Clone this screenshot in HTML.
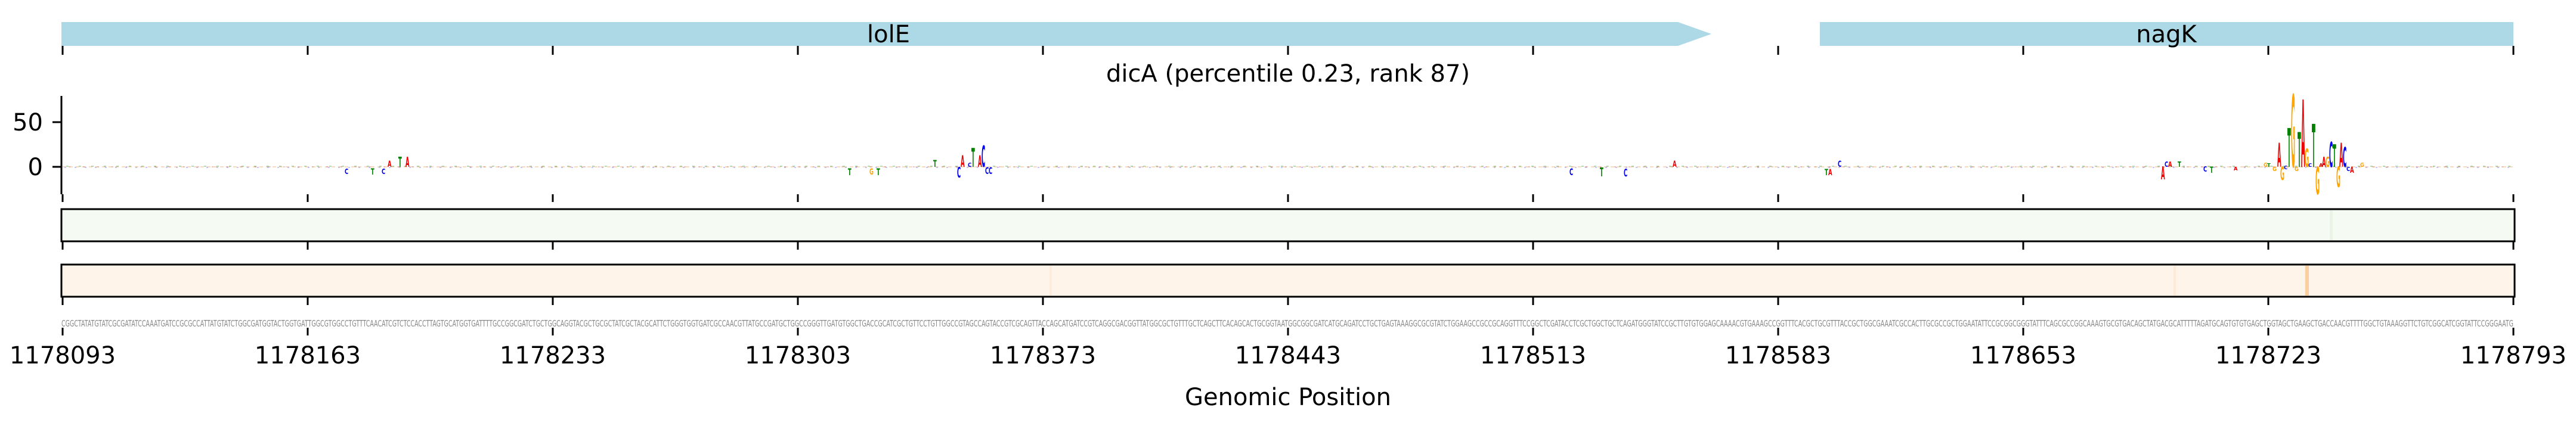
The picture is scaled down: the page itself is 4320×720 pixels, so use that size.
<!DOCTYPE html>
<html><head><meta charset="utf-8"><style>
html,body{margin:0;padding:0;background:#fff;}
svg{display:block;}
text{font-family:"DejaVu Sans","Liberation Sans",sans-serif;}
.l{font-family:"DejaVu Sans","Liberation Sans",sans-serif;font-weight:bold;font-size:100px;}
.A{fill:#ee0000}.C{fill:#0000ee}.G{fill:#ffa500}.T{fill:#008000}
</style></head><body>
<svg width="4320" height="720" viewBox="0 0 4320 720" xmlns="http://www.w3.org/2000/svg">
<!-- gene track -->
<polygon points="103,37 2814,37 2870,57 2814,77 103,77" fill="#add8e6"/>
<rect x="3052" y="37" width="1163" height="40" fill="#add8e6"/>
<text x="1490" y="71" font-size="40" text-anchor="middle">lolE</text>
<text x="3633" y="71" font-size="40" text-anchor="middle">nagK</text>
<g stroke="#000" stroke-width="3">
<path d="M105,77V92M516,77V92M927,77V92M1338,77V92M1749,77V92M2160,77V92M2571,77V92M2982,77V92M3393,77V92M3804,77V92M4215,77V92"/>
<path d="M105,326V339M516,326V339M927,326V339M1338,326V339M1749,326V339M2160,326V339M2571,326V339M2982,326V339M3393,326V339M3804,326V339M4215,326V339"/>
<path d="M105,405V419M516,405V419M927,405V419M1338,405V419M1749,405V419M2160,405V419M2571,405V419M2982,405V419M3393,405V419M3804,405V419M4215,405V419"/>
<path d="M105,498V512M516,498V512M927,498V512M1338,498V512M1749,498V512M2160,498V512M2571,498V512M2982,498V512M3393,498V512M3804,498V512M4215,498V512"/>
<path d="M105,550V563M516,550V563M927,550V563M1338,550V563M1749,550V563M2160,550V563M2571,550V563M2982,550V563M3393,550V563M3804,550V563M4215,550V563"/>
</g>
<!-- title -->
<text x="2160" y="137" font-size="40" text-anchor="middle">dicA (percentile 0.23, rank 87)</text>
<!-- logo axis -->
<path d="M103,161V326M88,205H103M88,280H103" stroke="#000" stroke-width="3" fill="none"/>
<text x="72" y="219" font-size="40" text-anchor="end">50</text>
<text x="72" y="294" font-size="40" text-anchor="end">0</text>
<!-- baseline noise -->
<path d="M105,280H4215" stroke="#f0b070" stroke-width="1.5" stroke-dasharray="6,5" opacity="0.6"/>
<path d="M108,281H4215" stroke="#7070ee" stroke-width="1.5" stroke-dasharray="3,14" opacity="0.5"/>
<path d="M111,279H4215" stroke="#40a040" stroke-width="1.5" stroke-dasharray="4,17" opacity="0.5"/>
<path d="M115,280H4215" stroke="#ee6060" stroke-width="1.5" stroke-dasharray="3,21" opacity="0.5"/>
<!-- small letters scattered -->
<g class="l">
<text class="A" transform="translate(650,280) scale(0.085,0.14)">A</text>
<text class="T" transform="translate(668,280) scale(0.085,0.23)">T</text>
<text class="A" transform="translate(680,280) scale(0.085,0.23)">A</text>
<text class="C" transform="translate(578,292) scale(0.085,0.12)">C</text>
<text class="T" transform="translate(622,293) scale(0.085,0.14)">T</text>
<text class="C" transform="translate(640,292) scale(0.085,0.12)">C</text>
<text class="T" transform="translate(1422,294) scale(0.085,0.16)">T</text>
<text class="G" transform="translate(1458,293) scale(0.085,0.14)">G</text>
<text class="T" transform="translate(1470,294) scale(0.085,0.16)">T</text>
<text class="T" transform="translate(1565,280) scale(0.085,0.16)">T</text>
<text class="C" transform="translate(1605,298) scale(0.085,0.25)">C</text>
<text class="A" transform="translate(1611,280) scale(0.085,0.27)">A</text>
<text class="C" transform="translate(1623,280) scale(0.085,0.1)">C</text>
<text class="T" transform="translate(1629,280) scale(0.085,0.44)">T</text>
<text class="A" transform="translate(1640,280) scale(0.085,0.27)">A</text>
<text class="C" transform="translate(1646,280) scale(0.085,0.49)">C</text>
<text class="C" transform="translate(1652,292) scale(0.085,0.16)">C</text>
<text class="C" transform="translate(1658,292) scale(0.085,0.16)">C</text>
<text class="T" transform="translate(2683,296) scale(0.085,0.2)">T</text>
<text class="C" transform="translate(2723,296) scale(0.085,0.18)">C</text>
<text class="C" transform="translate(2632,294) scale(0.085,0.16)">C</text>
<text class="A" transform="translate(2805,280) scale(0.085,0.14)">A</text>
<text class="T" transform="translate(3060,294) scale(0.085,0.14)">T</text>
<text class="A" transform="translate(3066,294) scale(0.085,0.14)">A</text>
<text class="C" transform="translate(3082,280) scale(0.085,0.14)">C</text>
<text class="A" transform="translate(3624,301) scale(0.085,0.3)">A</text>
<text class="C" transform="translate(3630,280) scale(0.085,0.12)">C</text>
<text class="A" transform="translate(3636,280) scale(0.085,0.12)">A</text>
<text class="T" transform="translate(3652,280) scale(0.085,0.12)">T</text>
<text class="C" transform="translate(3695,288) scale(0.085,0.12)">C</text>
<text class="T" transform="translate(3706,290) scale(0.085,0.14)">T</text>
<text class="A" transform="translate(3746,286) scale(0.085,0.08)">A</text>
<text class="G" transform="translate(3796,280) scale(0.085,0.1)">G</text>
<text class="T" transform="translate(3802,280) scale(0.085,0.08)">T</text>
<!-- main peak -->
<text class="G" transform="translate(3811,287) scale(0.085,0.1)">G</text>
<text class="A" transform="translate(3819,280) scale(0.085,0.55)">A</text>
<text class="G" transform="translate(3824,302) scale(0.085,0.3)">G</text>
<text class="C" transform="translate(3830,284) scale(0.085,0.08)">C</text>
<text class="T" transform="translate(3836,280) scale(0.085,0.89)">T</text>
<text class="G" transform="translate(3842,280) scale(0.085,1.67)">G</text>
<text class="G" transform="translate(3848,287) scale(0.085,0.1)">G</text>
<text class="T" transform="translate(3853,280) scale(0.085,0.8)">T</text>
<text class="A" transform="translate(3859,280) scale(0.085,1.55)">A</text>
<text class="G" transform="translate(3865,280) scale(0.085,0.42)">G</text>
<text class="C" transform="translate(3871,280) scale(0.085,0.08)">C</text>
<text class="T" transform="translate(3877,280) scale(0.085,0.99)">T</text>
<text class="G" transform="translate(3883,326) scale(0.085,0.63)">G</text>
<text class="A" transform="translate(3889,280) scale(0.085,0.08)">A</text>
<text class="A" transform="translate(3894,280) scale(0.085,0.23)">A</text>
<text class="G" transform="translate(3900,280) scale(0.085,0.23)">G</text>
<text class="C" transform="translate(3906,280) scale(0.085,0.58)">C</text>
<text class="T" transform="translate(3912,280) scale(0.085,0.52)">T</text>
<text class="G" transform="translate(3918,314) scale(0.085,0.47)">G</text>
<text class="A" transform="translate(3923,280) scale(0.085,0.55)">A</text>
<text class="C" transform="translate(3929,280) scale(0.085,0.45)">C</text>
<text class="C" transform="translate(3935,287) scale(0.085,0.1)">C</text>
<text class="A" transform="translate(3941,290) scale(0.085,0.14)">A</text>
<text class="G" transform="translate(3958,280) scale(0.085,0.1)">G</text>
</g>
<!-- green heatmap -->
<rect x="103" y="351" width="4114" height="54" fill="#f5faf2" stroke="#000" stroke-width="3"/>
<rect x="3907" y="353" width="5" height="50" fill="#e9f4e5"/>
<!-- orange heatmap -->
<rect x="103" y="444" width="4114" height="54" fill="#fff4e9" stroke="#000" stroke-width="3"/>
<rect x="3866" y="446" width="6" height="50" fill="#fccfa3"/>
<rect x="3645" y="446" width="4" height="50" fill="#fdeadb"/>
<rect x="1760" y="446" width="4" height="50" fill="#fdecdd"/>
<!-- sequence -->
<text x="103" y="548" font-size="15" fill="#888" textLength="4112" lengthAdjust="spacingAndGlyphs" font-family="Liberation Sans Narrow, Liberation Sans, sans-serif">CGGCTATATGTATCGCGATATCCAAATGATCCGCGCCATTATGTATCTGGCGATGGTACTGGTGATTGGCGTGGCCTGTTTCAACATCGTCTCCACCTTAGTGCATGGTGATTTTGCCGGCGATCTGCTGGCAGGTACGCTGCGCTATCGCTACGCATTCTGGGTGGTGATCGCCAACGTTATGCCGATGCTGGCCGGGTTGATGTGGCTGACCGCATCGCTGTTCCTGTTGGCCGTAGCCAGTACCGTCGCAGTTACCAGCATGATCCGTCAGGCGACGGTTATGGCGCTGTTTGCTCAGCTTCACAGCACTGCGGTAATGGCGGCGATCATGCAGATCCTGCTGAGTAAAGGCGCGTATCTGGAAGCCGCCGCAGGTTTCCGGCTCGATACCTCGCTGGCTGCTCAGATGGGTATCCGCTTGTGTGGAGCAAAACGTGAAAGCCGGTTTCACGCTGCGTTTACCGCTGGCGAAATCGCCACTTGCGCCGCTGGAATATTCCGCGGCGGGTATTTCAGCGCCGGCAAAGTGCGTGACAGCTATGACGCATTTTTAGATGCAGTGTGTGAGCTGGTAGCTGAAGCTGACCAACGTTTTGGCTGTAAAGGTTCTGTCGGCATCGGTATTCCGGGAATG</text>
<!-- tick labels -->
<g font-size="40" text-anchor="middle">
<text x="105" y="610">1178093</text><text x="516" y="610">1178163</text><text x="927" y="610">1178233</text><text x="1338" y="610">1178303</text><text x="1749" y="610">1178373</text><text x="2160" y="610">1178443</text><text x="2571" y="610">1178513</text><text x="2982" y="610">1178583</text><text x="3393" y="610">1178653</text><text x="3804" y="610">1178723</text><text x="4215" y="610">1178793</text>
</g>
<text x="2160" y="680" font-size="40" text-anchor="middle">Genomic Position</text>
</svg>
</body></html>
